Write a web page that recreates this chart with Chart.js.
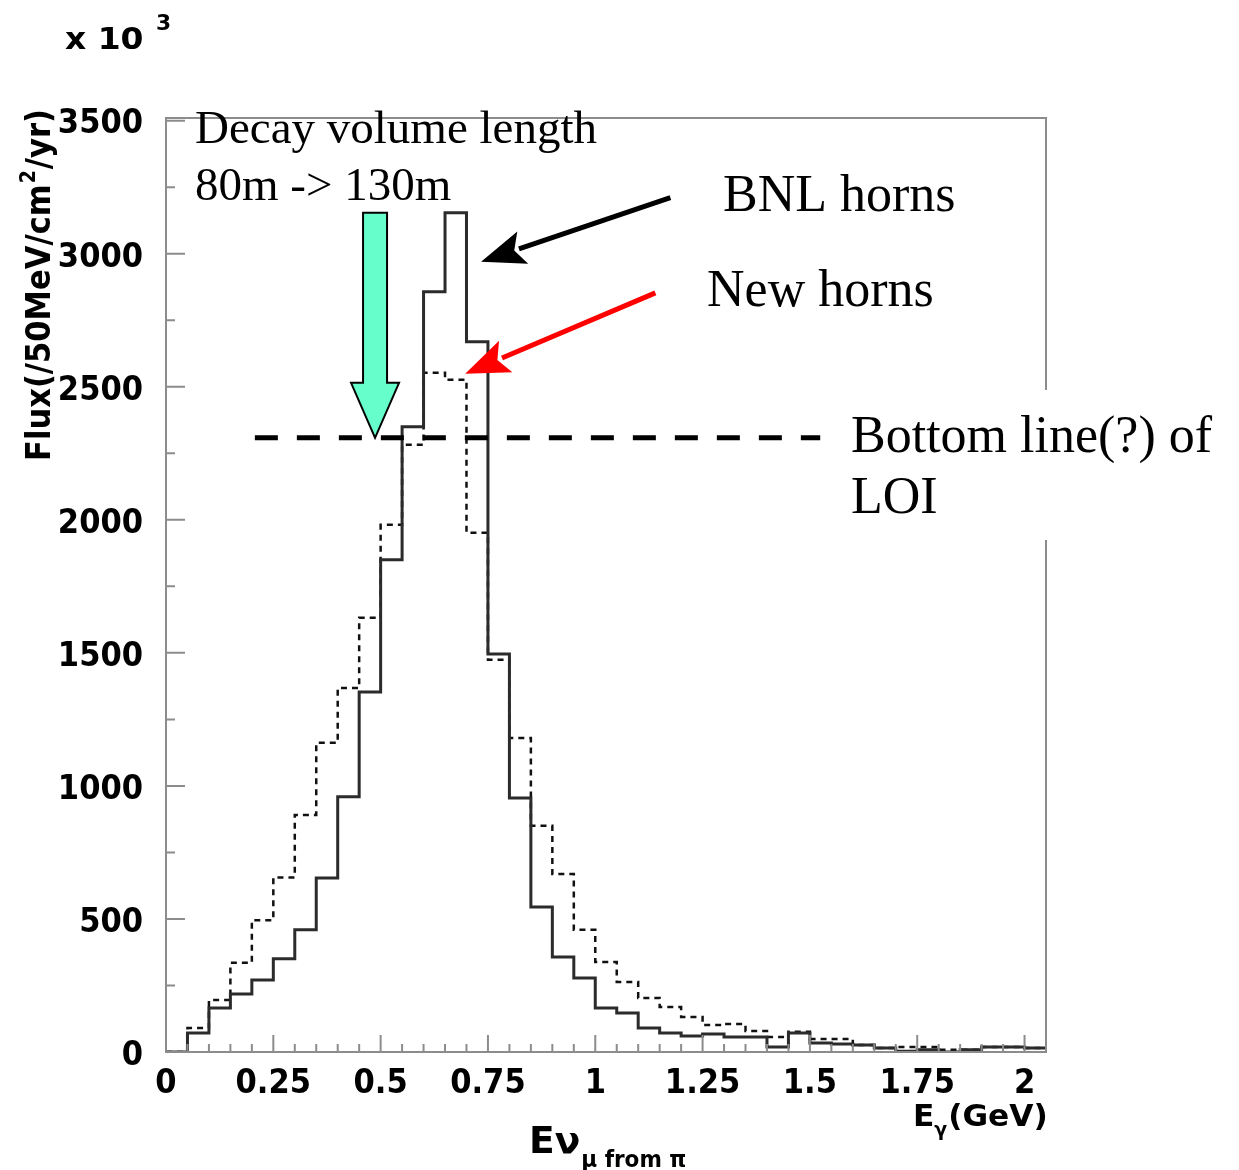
<!DOCTYPE html>
<html>
<head>
<meta charset="utf-8">
<script src="https://cdn.jsdelivr.net/npm/chart.js@4.4.1/dist/chart.umd.min.js"></script>
<style>
  html, body { margin: 0; padding: 0; background: #fff; }
  #wrap { width: 1239px; height: 1170px; }
</style>
</head>
<body>
<div id="wrap"><canvas id="flux" width="1239" height="1170"></canvas></div>
<script>
// bins of 50 MeV, from 0 to 2.05 GeV
const binWidth = 0.05;
const nBins = 41;

// flux per bin (x 10^3)
const bnlHorns = [0, 71, 165, 218, 271, 350, 459, 654, 959, 1353,
  1850, 2350, 2857, 3154, 2669, 1496, 955, 545, 357, 278,
  165, 147, 90, 71, 60, 68, 56, 56, 19, 71,
  34, 30, 26, 15, 3, 8, 0, 8, 19, 19, 15];
const newHorns = [0, 90, 195, 335, 495, 656, 891, 1162, 1368, 1632,
  1981, 2282, 2553, 2526, 1951, 1474, 1180, 850, 669, 459,
  338, 263, 203, 169, 132, 101, 105, 79, 56, 76,
  49, 49, 26, 15, 19, 19, 8, 8, 19, 19, 15];

const xTicks = [0, 0.25, 0.5, 0.75, 1, 1.25, 1.5, 1.75, 2];
const yTicks = [0, 500, 1000, 1500, 2000, 2500, 3000, 3500];

const X_MAX = 2.05;
const Y_MAX = 3510;

// histogram -> step points (left edge of every bin + closing right edge)
function toSteps(vals) {
  const pts = [];
  for (let i = 0; i < vals.length; i++) {
    pts.push({ x: +(i * binWidth).toFixed(2), y: vals[i] });
  }
  pts.push({ x: +(vals.length * binWidth).toFixed(2), y: vals[vals.length - 1] });
  return pts;
}

const tickFont = { family: 'DejaVu Sans Condensed', weight: 'bold', size: 34 };
const labelFamily = '"DejaVu Sans Condensed", "DejaVu Sans", sans-serif';
const serif = '"Liberation Serif", "Times New Roman", serif';

// annotations, in data units
const loiLevel = 2308;
const loiFrom = 0.207, loiTo = 1.524;
const decayArrow = { x: 0.487, top: 3154, tip: loiLevel };
const bnlArrow = { x0: 1.175, y0: 3211, x1: 0.734, y1: 2970 };
const newArrow = { x0: 1.140, y0: 2853, x1: 0.697, y1: 2549 };

function arrow(ctx, x0, y0, x1, y1, color, lw, headLen, headW) {
  const ang = Math.atan2(y1 - y0, x1 - x0);
  const bx = x1 - headLen * Math.cos(ang), by = y1 - headLen * Math.sin(ang);
  ctx.save();
  ctx.strokeStyle = color;
  ctx.fillStyle = color;
  ctx.lineWidth = lw;
  ctx.beginPath();
  ctx.moveTo(x0, y0);
  ctx.lineTo(bx + 4 * Math.cos(ang), by + 4 * Math.sin(ang));
  ctx.stroke();
  ctx.beginPath();
  ctx.moveTo(x1, y1);
  ctx.lineTo(bx + headW * Math.sin(ang), by - headW * Math.cos(ang));
  ctx.lineTo(bx + 9 * Math.cos(ang), by + 9 * Math.sin(ang));
  ctx.lineTo(bx - headW * Math.sin(ang), by + headW * Math.cos(ang));
  ctx.closePath();
  ctx.fill();
  ctx.restore();
}

// text stretched sideways, returns drawn width
function wideText(ctx, text, x, y, sx) {
  ctx.save();
  ctx.translate(x, y);
  ctx.scale(sx, 1);
  ctx.fillText(text, 0, 0);
  ctx.restore();
  return ctx.measureText(text).width * sx;
}

const overlay = {
  id: 'overlay',
  afterDraw(chart) {
    const { ctx, chartArea: a, scales: { x, y } } = chart;
    ctx.save();

    // frame + inward ticks
    ctx.strokeStyle = '#8c8c8c';
    ctx.lineWidth = 2;
    ctx.strokeRect(a.left, a.top, a.right - a.left, a.bottom - a.top);
    ctx.beginPath();
    for (let i = 0; i <= nBins; i++) {
      const v = +(i * binWidth).toFixed(2);
      if (v > X_MAX) break;
      const px = x.getPixelForValue(v);
      const len = xTicks.includes(v) ? 17 : 8;
      ctx.moveTo(px, a.bottom);
      ctx.lineTo(px, a.bottom - len);
    }
    for (let v = 0; v <= Y_MAX; v += 250) {
      const py = y.getPixelForValue(v);
      const len = yTicks.includes(v) ? 19 : 9;
      ctx.moveTo(a.left, py);
      ctx.lineTo(a.left + len, py);
    }
    ctx.stroke();

    // axis titles
    ctx.fillStyle = '#000';
    ctx.textBaseline = 'alphabetic';
    ctx.font = 'bold 31px ' + labelFamily;
    wideText(ctx, 'x 10', 65, 49, 1.18);
    ctx.font = 'bold 22px ' + labelFamily;
    wideText(ctx, '3', 156, 30, 1.1);

    ctx.save();
    ctx.translate(50, 461);
    ctx.rotate(-Math.PI / 2);
    ctx.font = 'bold 34px ' + labelFamily;
    let t = 'Flux(/50MeV/cm';
    ctx.fillText(t, 0, 0);
    let w = ctx.measureText(t).width;
    ctx.font = 'bold 21px ' + labelFamily;
    ctx.fillText('2', w + 1, -15);
    w += ctx.measureText('2').width + 2;
    ctx.font = 'bold 34px ' + labelFamily;
    ctx.fillText('/yr)', w, 0);
    ctx.restore();

    ctx.font = 'bold 31px ' + labelFamily;
    let ex = 913;
    ex += wideText(ctx, 'E', ex, 1126, 1.12);
    ctx.font = 'bold 20px ' + labelFamily;
    ex += wideText(ctx, '\u03b3', ex, 1136, 1.05);
    ctx.font = 'bold 31px ' + labelFamily;
    wideText(ctx, '(GeV)', ex + 1, 1126, 1.12);

    ctx.font = 'bold 38px ' + labelFamily;
    let nx = 529;
    nx += wideText(ctx, 'E\u03bd', nx, 1153, 1.1);
    ctx.font = 'bold 23px ' + labelFamily;
    wideText(ctx, '\u03bc from \u03c0', nx + 1, 1167, 1.04);

    // LOI dashed line
    const ly = y.getPixelForValue(loiLevel);
    ctx.strokeStyle = '#000';
    ctx.lineWidth = 5;
    ctx.setLineDash([23, 19]);
    ctx.beginPath();
    ctx.moveTo(x.getPixelForValue(loiFrom), ly);
    ctx.lineTo(x.getPixelForValue(loiTo), ly);
    ctx.stroke();
    ctx.setLineDash([]);

    // decay-volume block arrow
    const ax = x.getPixelForValue(decayArrow.x);
    const aTop = y.getPixelForValue(decayArrow.top);
    const aTip = y.getPixelForValue(decayArrow.tip);
    const neck = aTip - 55;
    ctx.beginPath();
    ctx.moveTo(ax - 12, aTop);
    ctx.lineTo(ax + 12, aTop);
    ctx.lineTo(ax + 12, neck);
    ctx.lineTo(ax + 24, neck);
    ctx.lineTo(ax, aTip);
    ctx.lineTo(ax - 24, neck);
    ctx.lineTo(ax - 12, neck);
    ctx.closePath();
    ctx.fillStyle = '#66ffcc';
    ctx.fill();
    ctx.lineWidth = 2;
    ctx.strokeStyle = '#000';
    ctx.stroke();

    arrow(ctx, x.getPixelForValue(bnlArrow.x0), y.getPixelForValue(bnlArrow.y0),
      x.getPixelForValue(bnlArrow.x1), y.getPixelForValue(bnlArrow.y1), '#000', 5, 44, 17);
    arrow(ctx, x.getPixelForValue(newArrow.x0), y.getPixelForValue(newArrow.y0),
      x.getPixelForValue(newArrow.x1), y.getPixelForValue(newArrow.y1), '#ff0000', 5, 44, 17);

    // text labels
    ctx.fillStyle = '#fff';
    ctx.fillRect(843, 390, 396, 150);
    ctx.fillStyle = '#000';
    ctx.font = '47px ' + serif;
    ctx.fillText('Decay volume length', 195, 143);
    ctx.fillText('80m -> 130m', 195, 200);
    ctx.font = '52px ' + serif;
    ctx.fillText('BNL horns', 723, 211);
    ctx.fillText('New horns', 707, 306);
    ctx.fillText('Bottom line(?) of', 851, 452);
    ctx.fillText('LOI', 851, 513);

    ctx.restore();
  }
};

new Chart(document.getElementById('flux'), {
  type: 'line',
  data: {
    datasets: [
      {
        label: 'BNL horns',
        data: toSteps(bnlHorns),
        stepped: true,
        borderColor: '#2b2b2b',
        borderWidth: 3,
        pointRadius: 0,
        fill: false
      },
      {
        label: 'New horns',
        data: toSteps(newHorns),
        stepped: true,
        borderColor: '#111',
        borderWidth: 2.5,
        borderDash: [6, 5],
        pointRadius: 0,
        fill: false
      }
    ]
  },
  options: {
    responsive: false,
    devicePixelRatio: 1,
    animation: false,
    layout: { padding: { left: 0, right: 193, top: 118, bottom: 0 } },
    plugins: { legend: { display: false }, tooltip: { enabled: false } },
    scales: {
      x: {
        type: 'linear',
        min: 0,
        max: X_MAX,
        afterBuildTicks: s => { s.ticks = xTicks.map(v => ({ value: v })); },
        afterFit: s => { s.height = 118; },
        grid: { display: false, drawTicks: false },
        border: { display: false },
        ticks: {
          font: tickFont,
          color: '#000',
          padding: 12,
          maxRotation: 0,
          autoSkip: false,
          callback: v => String(+v.toFixed(2))
        }
      },
      y: {
        type: 'linear',
        min: 0,
        max: Y_MAX,
        afterBuildTicks: s => { s.ticks = yTicks.map(v => ({ value: v })); },
        afterFit: s => { s.width = 166; },
        grid: { display: false, drawTicks: false },
        border: { display: false },
        ticks: {
          font: tickFont,
          color: '#000',
          padding: 23,
          labelOffset: 4,
          autoSkip: false,
          callback: v => String(v)
        }
      }
    }
  },
  plugins: [overlay]
});
</script>
</body>
</html>
